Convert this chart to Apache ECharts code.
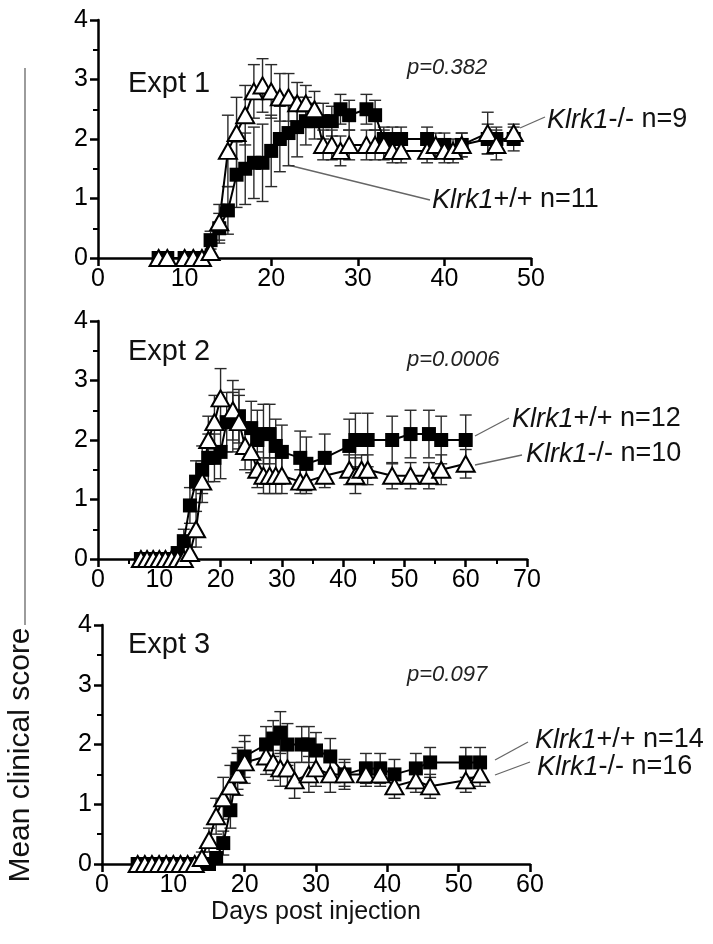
<!DOCTYPE html>
<html>
<head>
<meta charset="utf-8">
<script src="https://cdn.jsdelivr.net/npm/echarts@6/dist/echarts.min.js"></script>
<style>html,body{margin:0;background:#fff}#chart{width:713px;height:944px}</style>
</head>
<body>
<div id="chart"></div>
<script>
// Expt 1
const wt1Days = [7,8,10,11,12,13,14,15,16,17,18,19,20,21,22,23,24,25,26,27,28,29,31,32,33,34,35,38,40,42,45,46,48];
const wt1Mean = [0,0,0,0,0,0.3,0.5,0.8,1.4,1.5,1.6,1.6,1.8,2.0,2.1,2.2,2.3,2.3,2.3,2.3,2.5,2.4,2.5,2.4,2.0,2.0,2.0,2.0,1.9,1.9,2.0,2.0,2.0];
const wt1Err  = [0,0,0,0,0,0.15,0.25,0.4,0.55,0.6,0.6,0.65,0.6,0.55,0.55,0.5,0.4,0.3,0.3,0.25,0.25,0.25,0.25,0.25,0.2,0.2,0.2,0.2,0.2,0.2,0.25,0.2,0.2];
const ko1Days = [7,8,10,11,12,13,14,15,16,17,18,19,20,21,22,23,24,25,26,27,28,29,31,32,33,34,35,38,39,40,41,42,45,46,48];
const ko1Mean = [0,0,0,0,0,0.1,0.6,1.8,2.1,2.4,2.8,2.9,2.8,2.7,2.7,2.6,2.6,2.5,1.9,1.9,1.8,1.9,1.9,1.9,1.9,1.8,1.8,1.8,1.9,1.8,1.8,1.9,2.1,1.9,2.1];
const ko1Err  = [0,0,0,0,0,0.1,0.3,0.6,0.6,0.5,0.45,0.45,0.45,0.4,0.4,0.35,0.3,0.3,0.25,0.25,0.25,0.25,0.25,0.25,0.25,0.2,0.2,0.2,0.2,0.2,0.2,0.2,0.35,0.25,0.15];

// Expt 2
const wt2Days = [7,8,9,10,11,12,13,14,15,16,17,18,19,20,21,22,23,25,26,27,28,29,30,33,34,37,41,42,44,48,51,54,56,60];
const wt2Mean = [0,0,0,0,0,0,0.1,0.3,0.9,1.3,1.5,1.7,1.7,1.8,2.3,2.3,2.4,2.2,2.0,2.1,2.1,1.9,1.8,1.7,1.6,1.7,1.9,2.0,2.0,2.0,2.1,2.1,2.0,2.0];
const wt2Err  = [0,0,0,0,0,0,0.1,0.2,0.3,0.35,0.4,0.4,0.4,0.45,0.5,0.5,0.45,0.45,0.5,0.5,0.5,0.45,0.45,0.45,0.45,0.4,0.45,0.45,0.45,0.4,0.4,0.4,0.4,0.42];
const ko2Days = [7,8,9,10,11,12,13,14,15,16,17,18,19,20,22,23,24,25,26,27,28,29,30,33,34,37,41,42,43,44,48,51,54,56,60];
const ko2Mean = [0,0,0,0,0,0,0,0,0.1,0.5,1.3,2.0,2.3,2.7,2.5,2.3,1.9,1.8,1.5,1.4,1.4,1.4,1.4,1.3,1.3,1.4,1.5,1.4,1.5,1.5,1.4,1.4,1.4,1.5,1.6];
const ko2Err  = [0,0,0,0,0,0,0,0,0.1,0.3,0.35,0.4,0.45,0.5,0.5,0.45,0.4,0.35,0.3,0.3,0.3,0.3,0.3,0.2,0.2,0.2,0.25,0.3,0.25,0.25,0.22,0.22,0.22,0.25,0.24];

// Expt 3
const wt3Days = [5,6,7,8,9,10,11,12,13,14,15,16,17,18,19,20,23,24,25,26,28,29,30,32,34,37,39,41,44,46,51,53];
const wt3Mean = [0,0,0,0,0,0,0,0,0,0,0,0.1,0.35,0.9,1.6,1.8,2.0,2.1,2.2,2.0,2.0,2.0,1.9,1.8,1.5,1.6,1.6,1.5,1.6,1.7,1.7,1.7];
const wt3Err  = [0,0,0,0,0,0,0,0,0,0,0,0.1,0.2,0.3,0.35,0.35,0.3,0.3,0.35,0.35,0.3,0.3,0.3,0.3,0.25,0.25,0.25,0.25,0.25,0.25,0.25,0.25];
const ko3Days = [5,6,7,8,9,10,11,12,13,14,15,16,17,18,19,20,23,24,25,26,27,29,30,32,34,37,39,41,44,46,51,53];
const ko3Mean = [0,0,0,0,0,0,0,0,0,0.1,0.4,0.8,1.1,1.3,1.5,1.7,1.8,1.7,1.6,1.6,1.4,1.5,1.6,1.5,1.5,1.5,1.5,1.3,1.4,1.3,1.4,1.5];
const ko3Err  = [0,0,0,0,0,0,0,0,0,0.1,0.2,0.3,0.35,0.35,0.35,0.35,0.3,0.3,0.3,0.3,0.3,0.3,0.3,0.3,0.2,0.2,0.2,0.2,0.2,0.2,0.2,0.2];

const xMax = [50, 70, 60];
const panelTitles = ['Expt 1', 'Expt 2', 'Expt 3'];
const pValues = ['p=0.382', 'p=0.0006', 'p=0.097'];
const wtLabels = ['+/+ n=11', '+/+ n=12', '+/+ n=14'];
const koLabels = ['-/- n=9', '-/- n=10', '-/- n=16'];

const FONT = '"Liberation Sans", Arial, sans-serif';
const chart = echarts.init(document.getElementById('chart'));

function errorBars(idx, days, vals, errs) {
  return {
    type: 'custom',
    xAxisIndex: idx,
    yAxisIndex: idx,
    z: 1,
    silent: true,
    data: days.map((d, i) => [d, vals[i], errs[i]]),
    encode: { x: 0, y: 1 },
    renderItem(params, api) {
      const x = api.value(0), m = api.value(1), e = api.value(2);
      if (!e) return;
      const top = api.coord([x, m + e]);
      const bot = api.coord([x, m - e]);
      const style = { stroke: '#2a2a2a', lineWidth: 1.4 };
      return {
        type: 'group',
        children: [
          { type: 'line', shape: { x1: top[0], y1: top[1], x2: bot[0], y2: bot[1] }, style },
          { type: 'line', shape: { x1: top[0] - 6, y1: top[1], x2: top[0] + 6, y2: top[1] }, style },
          { type: 'line', shape: { x1: bot[0] - 6, y1: bot[1], x2: bot[0] + 6, y2: bot[1] }, style }
        ]
      };
    }
  };
}

function wtLine(idx, days, vals) {
  return {
    type: 'line',
    xAxisIndex: idx,
    yAxisIndex: idx,
    z: 3,
    data: days.map((d, i) => [d, vals[i]]),
    symbol: 'rect',
    symbolSize: 14,
    lineStyle: { color: '#000', width: 2 },
    itemStyle: { color: '#000' }
  };
}

function koLine(idx, days, vals) {
  return {
    type: 'line',
    xAxisIndex: idx,
    yAxisIndex: idx,
    z: 4,
    data: days.map((d, i) => [d, vals[i]]),
    symbol: 'triangle',
    symbolSize: [18, 16],
    lineStyle: { color: '#000', width: 2 },
    itemStyle: { color: '#fff', borderColor: '#000', borderWidth: 2 }
  };
}

const axisLine = { show: true, lineStyle: { color: '#000', width: 2.5 } };
const axisLabel = { color: '#000', fontSize: 25, fontFamily: FONT };

const grids = [
  { left: 98, top: 20, width: 433, height: 238, outerBoundsMode: 'none' },
  { left: 98, top: 321, width: 429, height: 238, outerBoundsMode: 'none' },
  { left: 102, top: 625, width: 428, height: 239, outerBoundsMode: 'none' }
];

const xAxes = xMax.map((max, i) => ({
  type: 'value',
  gridIndex: i,
  min: 0,
  max,
  interval: 10,
  axisLine,
  axisTick: { show: true, length: 8, lineStyle: { color: '#000', width: 2.5 } },
  minorTick: { show: i === 1, splitNumber: 2, length: 5, lineStyle: { color: '#000', width: 2 } },
  splitLine: { show: false },
  axisLabel: { ...axisLabel, margin: 9 }
}));

const yAxes = xMax.map((_, i) => ({
  type: 'value',
  gridIndex: i,
  min: 0,
  max: 4,
  interval: 1,
  axisLine,
  axisTick: { show: true, length: 8, lineStyle: { color: '#000', width: 2.5 } },
  minorTick: { show: true, splitNumber: 2, length: 5, lineStyle: { color: '#000', width: 2 } },
  splitLine: { show: false },
  axisLabel: { ...axisLabel, margin: 10 }
}));

function geneLabel(x, y, rest) {
  return {
    type: 'text', x, y,
    style: {
      text: '{i|Klrk1}' + rest,
      fill: '#111',
      fontSize: 27,
      fontFamily: FONT,
      verticalAlign: 'middle',
      rich: { i: { fontStyle: 'italic', fontSize: 27, fontFamily: FONT, fill: '#111' } }
    }
  };
}

function leader(x1, y1, x2, y2) {
  return { type: 'line', shape: { x1, y1, x2, y2 }, style: { stroke: '#666', lineWidth: 1.3 } };
}

const titleY = [84, 352, 645];
const pY = [68, 360, 675];

const graphic = [];
panelTitles.forEach((t, i) => {
  graphic.push({ type: 'text', x: 128, y: titleY[i], style: { text: t, fill: '#111', fontSize: 29, fontFamily: FONT, verticalAlign: 'middle' } });
  graphic.push({ type: 'text', x: 407, y: pY[i], style: { text: pValues[i], fill: '#222', fontSize: 22, fontStyle: 'italic', fontFamily: FONT, verticalAlign: 'middle' } });
});

graphic.push(
  leader(520, 128, 545, 117), geneLabel(547, 120, koLabels[0]),
  leader(288, 165, 430, 200), geneLabel(432, 200, wtLabels[0]),
  leader(475, 436, 509, 418), geneLabel(512, 419, wtLabels[1]),
  leader(475, 465, 522, 455), geneLabel(526, 454, koLabels[1]),
  leader(495, 760, 528, 742), geneLabel(535, 740, wtLabels[2]),
  leader(495, 775, 530, 762), geneLabel(537, 767, koLabels[2]),
  leader(25, 68, 25, 625),
  { type: 'text', x: 21, y: 755, rotation: Math.PI / 2, style: { text: 'Mean clinical score', fill: '#111', fontSize: 30, fontFamily: FONT, align: 'center', verticalAlign: 'middle' } },
  { type: 'text', x: 316, y: 912, style: { text: 'Days post injection', fill: '#111', fontSize: 25, fontFamily: FONT, align: 'center', verticalAlign: 'middle' } }
);

chart.setOption({
  animation: false,
  backgroundColor: '#fff',
  grid: grids,
  xAxis: xAxes,
  yAxis: yAxes,
  series: [
    errorBars(0, wt1Days, wt1Mean, wt1Err), errorBars(0, ko1Days, ko1Mean, ko1Err),
    wtLine(0, wt1Days, wt1Mean), koLine(0, ko1Days, ko1Mean),
    errorBars(1, wt2Days, wt2Mean, wt2Err), errorBars(1, ko2Days, ko2Mean, ko2Err),
    wtLine(1, wt2Days, wt2Mean), koLine(1, ko2Days, ko2Mean),
    errorBars(2, wt3Days, wt3Mean, wt3Err), errorBars(2, ko3Days, ko3Mean, ko3Err),
    wtLine(2, wt3Days, wt3Mean), koLine(2, ko3Days, ko3Mean)
  ],
  graphic
});
</script>
</body>
</html>
